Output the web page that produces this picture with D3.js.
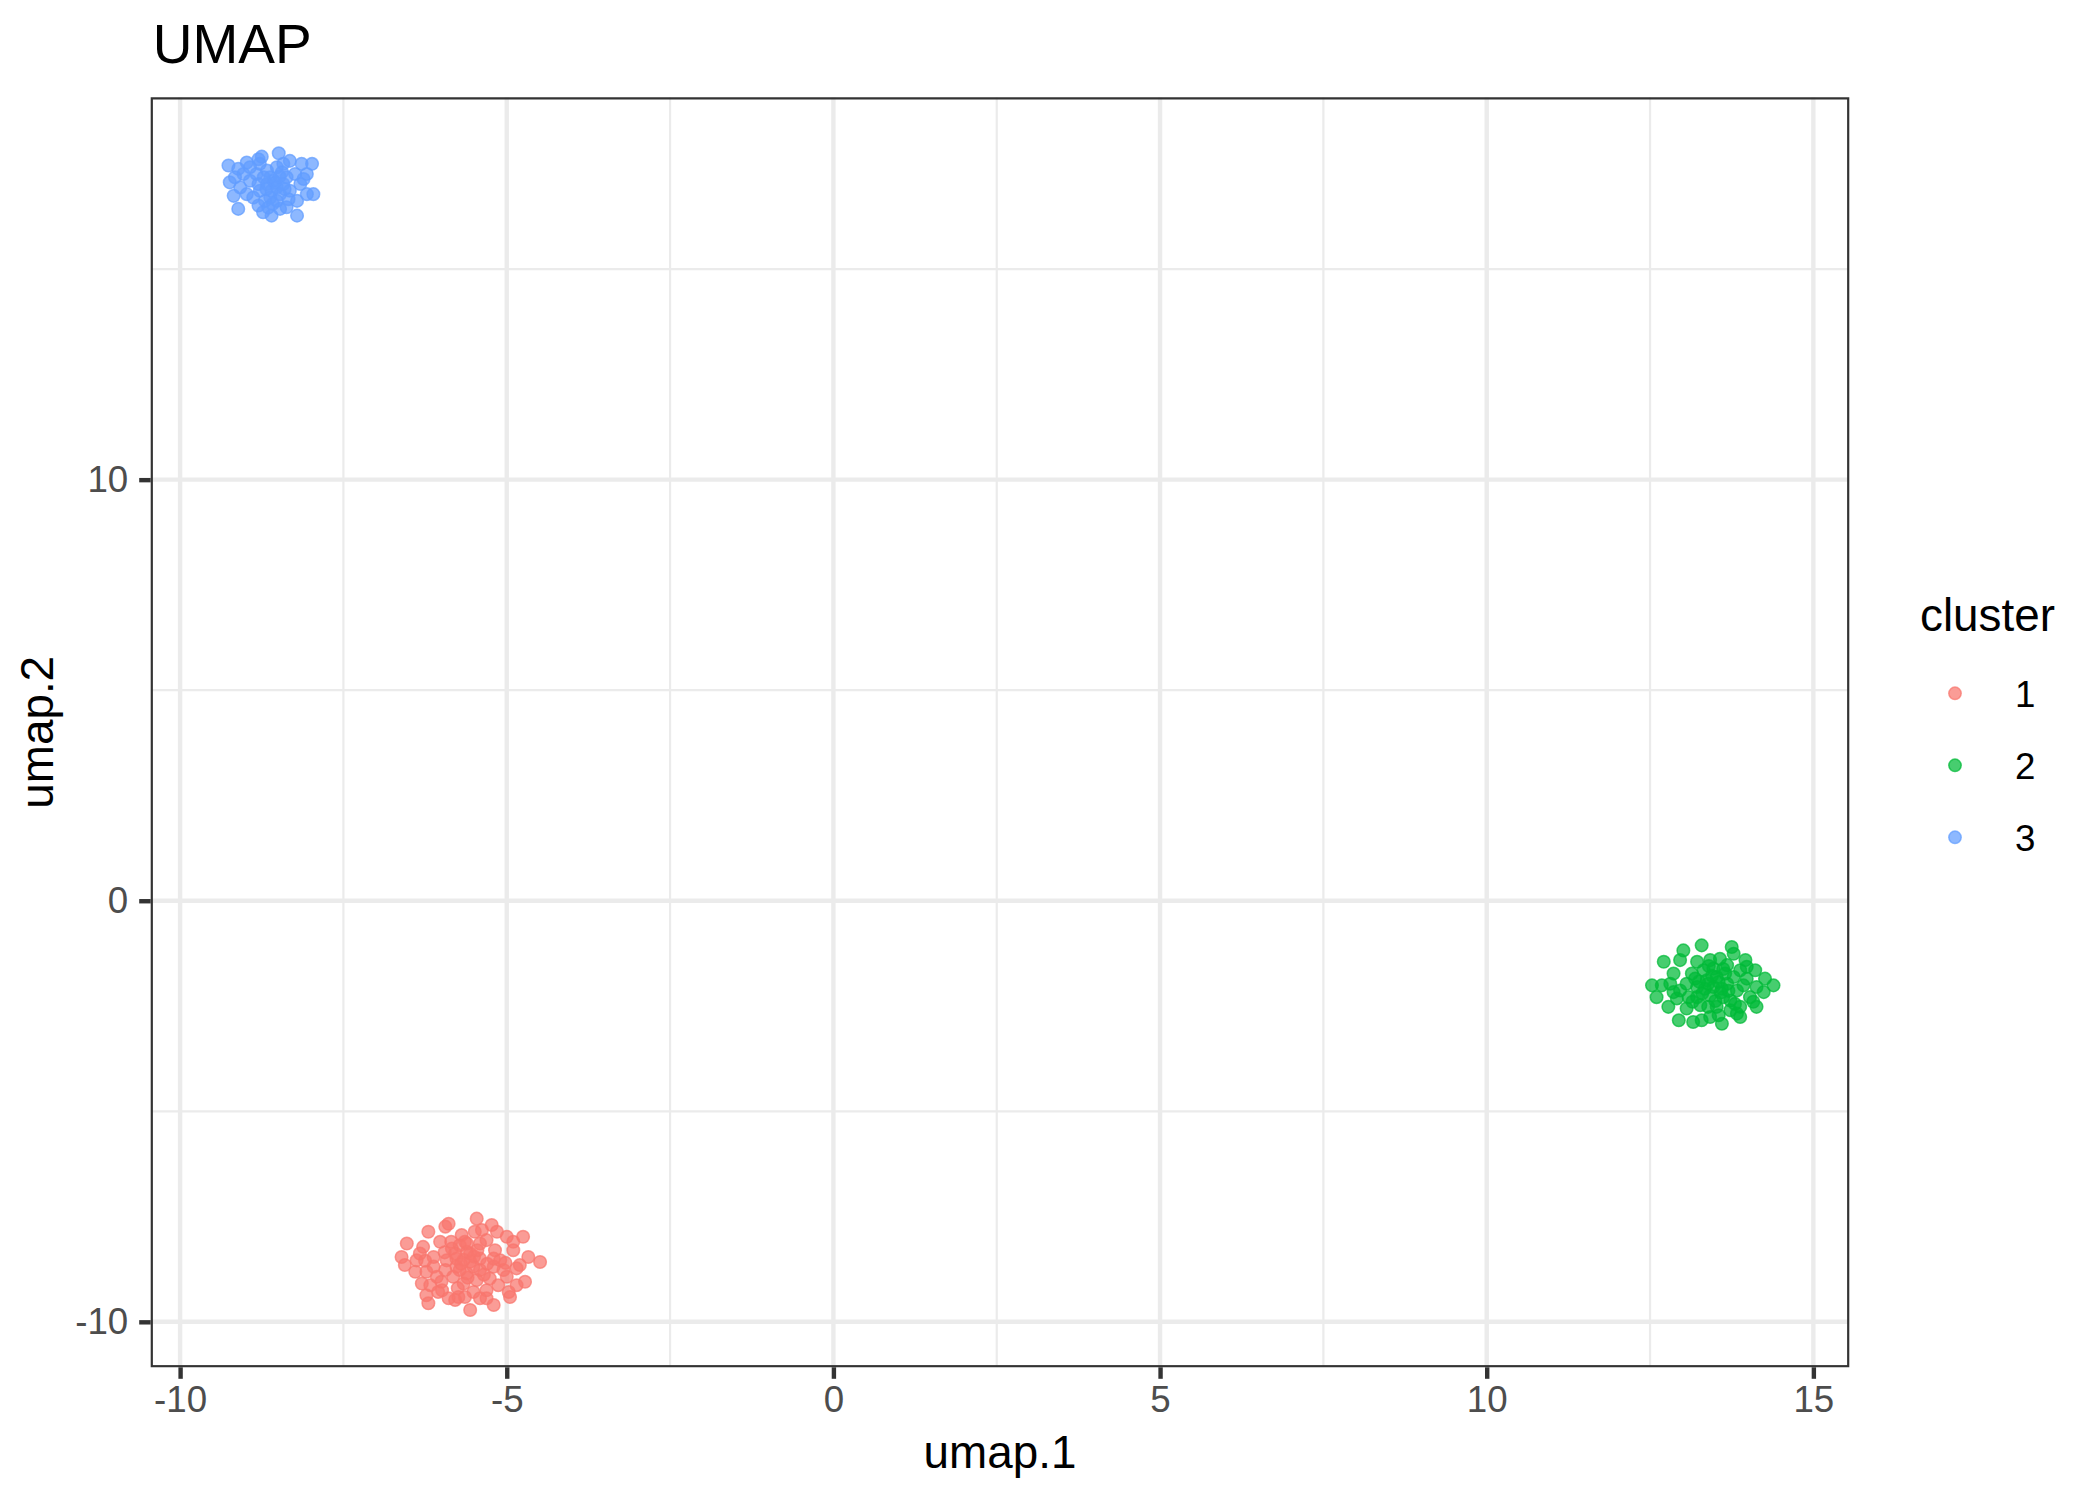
<!DOCTYPE html>
<html><head><meta charset="utf-8">
<script src="https://cdn.jsdelivr.net/npm/d3@7"></script>
<style>body{margin:0;background:#fff}svg{display:block}text{font-family:"Liberation Sans",Arial,Helvetica,sans-serif}</style>
</head><body>
<script>
const chartTitle = "UMAP";
const xLabel = "umap.1";
const yLabel = "umap.2";
const legendTitle = "cluster";
const clusters = ["1","2","3"];
const clusterColors = ["#F8766D","#00BA38","#619CFF"];
const xTicks = [-10,-5,0,5,10,15];
const yTicks = [-10,0,10];
const xMinor = [-7.5,-2.5,2.5,7.5,12.5];
const yMinor = [-5,5,15];

const cluster1 = [
[-5.46,-7.55],[-5.89,-7.67],[-5.94,-7.74],[-6.20,-7.86],[-6.53,-8.14],[-6.61,-8.46],[-6.56,-8.65],[-6.40,-8.81],
[-6.30,-9.09],[-6.23,-9.37],[-6.20,-9.56],[-5.79,-9.48],[-5.56,-9.72],[-5.20,-9.60],[-4.95,-9.41],[-4.85,-9.13],
[-4.72,-9.05],[-4.49,-8.58],[-4.67,-8.46],[-4.75,-7.98],[-4.90,-8.10],[-5.00,-7.98],[-5.23,-7.70],[-5.38,-7.82],
[-5.49,-7.86],[-5.69,-7.94],[-5.72,-8.18],[-6.02,-8.10],[-6.28,-8.22],[-6.38,-8.54],[-6.12,-8.46],[-5.92,-8.54],
[-5.61,-8.34],[-5.41,-8.14],[-5.31,-8.06],[-5.18,-8.30],[-5.10,-8.54],[-4.80,-8.65],[-4.85,-8.73],[-5.20,-8.69],
[-5.41,-8.77],[-5.61,-8.85],[-5.82,-8.93],[-6.07,-8.93],[-6.17,-9.13],[-5.99,-9.25],[-5.74,-9.41],[-5.51,-9.29],
[-5.31,-9.25],[-5.13,-9.13],[-5.00,-8.93],[-5.66,-9.09],[-5.46,-9.01],[-5.26,-8.97],[-5.05,-8.77],[-5.94,-8.77],
[-5.77,-8.50],[-5.56,-8.57],[-6.12,-8.69],[-6.33,-8.38],[-5.15,-7.86],[-5.41,-9.44],[-5.64,-9.41],[-6.05,-9.29],
[-4.90,-8.30],[-5.84,-8.26],[-6.23,-8.81],[-5.77,-8.69],[-5.64,-8.10],[-5.41,-8.50],[-5.20,-8.50],[-4.97,-9.29],
[-5.31,-9.44],[-5.89,-9.44],[-5.66,-8.53],[-5.56,-8.38],[-5.72,-8.77],[-5.51,-8.69],[-5.61,-8.14],[-5.79,-8.38],
[-5.70,-8.62],[-5.60,-8.95],[-5.85,-8.10],[-5.50,-8.45],[-5.95,-8.35],[-5.30,-8.62],[-6.00,-9.05],[-5.35,-8.88],
[-5.75,-9.20],[-6.25,-8.55],[-5.02,-8.60],[-5.45,-8.30]
];
const cluster2 = [
[12.53,-2.01],[12.60,-2.29],[12.71,-1.45],[12.78,-2.52],[12.94,-2.84],[13.01,-1.18],[12.96,-1.41],[13.29,-1.06],
[13.75,-1.10],[13.78,-1.26],[13.96,-1.41],[14.11,-1.65],[14.26,-1.85],[14.39,-2.01],[14.24,-2.17],[14.08,-2.40],
[13.83,-2.68],[13.60,-2.92],[13.42,-2.76],[13.29,-2.84],[13.16,-2.88],[13.06,-2.56],[12.86,-1.73],[12.81,-1.97],
[12.68,-2.01],[13.14,-1.73],[13.22,-1.45],[13.42,-1.41],[13.57,-1.38],[13.68,-1.53],[13.88,-1.65],[13.98,-1.85],
[14.13,-2.05],[14.03,-2.29],[13.88,-2.52],[13.73,-2.60],[13.52,-2.52],[13.27,-2.48],[13.09,-2.29],[12.96,-2.13],
[13.22,-2.05],[13.37,-1.89],[13.52,-1.81],[13.68,-1.97],[13.83,-2.13],[13.93,-2.01],[13.62,-2.29],[13.42,-2.25],
[13.22,-2.29],[13.06,-1.97],[13.32,-1.65],[13.47,-1.61],[13.78,-1.81],[14.13,-2.52],[12.91,-2.32],[13.55,-2.72],
[13.39,-2.52],[13.88,-2.76],[13.19,-1.85],[13.73,-2.37],[13.47,-2.05],[13.34,-2.09],[13.60,-2.09],[13.98,-1.57],
[12.86,-2.17],[13.55,-1.93],[13.39,-1.97],[13.65,-1.73],[13.45,-1.78],[13.58,-2.18],[13.30,-2.20],[13.50,-2.38],
[13.70,-2.14],[13.40,-1.55],[13.62,-1.62],[13.25,-1.92],[13.80,-2.45],[13.15,-2.40]
];
const cluster3 = [
[-9.26,17.46],[-9.11,17.38],[-8.98,17.53],[-8.80,17.61],[-8.75,17.67],[-8.49,17.75],[-8.32,17.57],[-8.14,17.50],
[-7.98,17.50],[-8.06,17.26],[-9.24,17.06],[-9.18,16.74],[-9.11,16.43],[-8.80,16.51],[-8.60,16.27],[-8.21,16.27],
[-7.96,16.78],[-8.06,16.78],[-8.16,17.02],[-8.37,16.47],[-8.47,16.43],[-8.73,16.35],[-9.03,17.26],[-8.93,17.10],
[-8.67,17.34],[-8.52,17.42],[-8.57,17.10],[-8.42,17.02],[-8.78,16.86],[-8.62,16.70],[-8.88,16.70],[-8.32,16.86],
[-8.24,17.26],[-8.98,16.78],[-8.67,17.02],[-8.47,16.78],[-8.37,17.18],[-8.83,17.26],[-9.08,16.94],[-8.52,16.62],
[-8.70,16.62],[-8.42,17.50],[-8.21,16.62],[-8.62,17.18],[-8.52,16.94],[-8.72,17.18],[-8.44,17.30],[-8.80,17.02],
[-8.60,16.86],[-8.34,16.66],[-8.93,17.42],[-8.11,17.14],[-9.16,17.18],[-8.65,16.46],[-8.78,17.50],[-8.55,17.05],
[-8.68,16.90],[-8.48,17.20],[-8.58,16.55],[-8.40,16.90]
];
const seriesData = [cluster1, cluster2, cluster3];

const W = 2100, H = 1500;
const panel = {l:150.7, r:1849.3, t:97.3, b:1367.3};
const x = d3.scaleLinear().domain([-10.45,15.55]).range([panel.l,panel.r]);
const y = d3.scaleLinear().domain([-11.08,19.08]).range([panel.b,panel.t]);

const svg = d3.select("body").append("svg").attr("width",W).attr("height",H);
svg.append("rect").attr("width",W).attr("height",H).attr("fill","#fff");

const g = svg.append("g");
const clipId = "pclip";
svg.append("defs").append("clipPath").attr("id",clipId).append("rect")
  .attr("x",panel.l).attr("y",panel.t).attr("width",panel.r-panel.l).attr("height",panel.b-panel.t);
const pg = g.append("g").attr("clip-path",`url(#${clipId})`);

// minor grid
pg.selectAll(".xm").data(xMinor).enter().append("line")
  .attr("x1",d=>x(d)).attr("x2",d=>x(d)).attr("y1",panel.t).attr("y2",panel.b)
  .attr("stroke","#EBEBEB").attr("stroke-width",2.2);
pg.selectAll(".ym").data(yMinor).enter().append("line")
  .attr("y1",d=>y(d)).attr("y2",d=>y(d)).attr("x1",panel.l).attr("x2",panel.r)
  .attr("stroke","#EBEBEB").attr("stroke-width",2.2);
// major grid
pg.selectAll(".xM").data(xTicks).enter().append("line")
  .attr("x1",d=>x(d)).attr("x2",d=>x(d)).attr("y1",panel.t).attr("y2",panel.b)
  .attr("stroke","#EBEBEB").attr("stroke-width",4.4);
pg.selectAll(".yM").data(yTicks).enter().append("line")
  .attr("y1",d=>y(d)).attr("y2",d=>y(d)).attr("x1",panel.l).attr("x2",panel.r)
  .attr("stroke","#EBEBEB").attr("stroke-width",4.4);

// points
seriesData.forEach((pts,i)=>{
  pg.append("g").selectAll("circle").data(pts).enter().append("circle")
    .attr("cx",d=>x(d[0])).attr("cy",d=>y(d[1])).attr("r",6.3)
    .attr("fill",clusterColors[i]).attr("fill-opacity",0.72)
    .attr("stroke",clusterColors[i]).attr("stroke-opacity",0.72).attr("stroke-width",1.5);
});

// border
pg.append("rect").attr("x",panel.l).attr("y",panel.t)
  .attr("width",panel.r-panel.l).attr("height",panel.b-panel.t)
  .attr("fill","none").attr("stroke","#333333").attr("stroke-width",4.4);

// axes
const xAxis = d3.axisBottom(x).tickValues(xTicks).tickSize(11.5).tickPadding(7).tickFormat(d3.format("d"));
const gx = svg.append("g").attr("transform",`translate(0,${panel.b})`).call(xAxis);
gx.select(".domain").remove();
gx.selectAll(".tick line").attr("stroke","#333333").attr("stroke-width",4.4);
gx.selectAll(".tick text").attr("fill","#4D4D4D").attr("font-size","36.7px")
  .attr("font-family",'"Liberation Sans",Arial,sans-serif').text(d=>d<0?"-"+Math.abs(d):d);

const yAxis = d3.axisLeft(y).tickValues(yTicks).tickSize(11.5).tickPadding(11).tickFormat(d3.format("d"));
const gy = svg.append("g").attr("transform",`translate(${panel.l},0)`).call(yAxis);
gy.select(".domain").remove();
gy.selectAll(".tick line").attr("stroke","#333333").attr("stroke-width",4.4);
gy.selectAll(".tick text").attr("fill","#4D4D4D").attr("font-size","36.7px")
  .attr("font-family",'"Liberation Sans",Arial,sans-serif').text(d=>d<0?"-"+Math.abs(d):d);

// titles
svg.append("text").attr("x",152.7).attr("y",63.3).attr("font-size","55px").attr("fill","#000").text(chartTitle);
svg.append("text").attr("x",(panel.l+panel.r)/2).attr("y",1468).attr("text-anchor","middle")
  .attr("font-size","45.8px").attr("fill","#000").text(xLabel);
svg.append("text").attr("transform",`translate(53.3,${(panel.t+panel.b)/2}) rotate(-90)`)
  .attr("text-anchor","middle").attr("font-size","45.8px").attr("fill","#000").text(yLabel);

// legend
const leg = svg.append("g");
leg.append("text").attr("x",1920).attr("y",630.7).attr("font-size","45.8px").attr("fill","#000").text(legendTitle);
const legY = d3.scalePoint().domain(clusters).range([693.3,837.3]);
clusters.forEach((c,i)=>{
  leg.append("circle").attr("cx",1955).attr("cy",legY(c)).attr("r",6.2)
    .attr("fill",clusterColors[i]).attr("fill-opacity",0.72)
    .attr("stroke",clusterColors[i]).attr("stroke-opacity",0.72).attr("stroke-width",1.5);
  leg.append("text").attr("x",2015).attr("y",legY(c)).attr("dy","0.36em")
    .attr("font-size","36.7px").attr("fill","#000").text(c);
});
</script>
</body></html>
